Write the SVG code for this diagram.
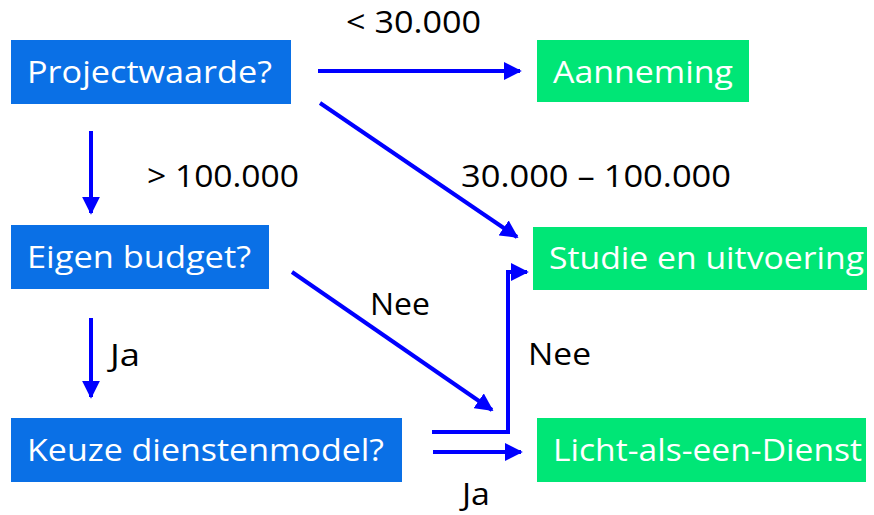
<svg xmlns="http://www.w3.org/2000/svg" width="874" height="515" viewBox="0 0 874 515">
<defs>
<style>
.q{fill:#0A70E6}
.a{fill:#00E676}
.t{font-family:"Open Sans","Liberation Sans",sans-serif;font-size:31px;fill:#fff}
.l{font-family:"Open Sans","Liberation Sans",sans-serif;font-size:31px;fill:#000}
.c{stroke:#0000FF;stroke-width:4;fill:none}
</style>
<marker id="ah" viewBox="0 0 10 10" refX="9" refY="5" markerWidth="4.5" markerHeight="4.5" markerUnits="strokeWidth" orient="auto">
<path d="M0,0 L10,5 L0,10 z" fill="#0000FF"/>
</marker>
</defs>
<rect width="874" height="515" fill="#fff"/>
<g id="projectwaarde"><rect class="q" x="11" y="40" width="280" height="64"/><text class="t" x="27" y="83" textLength="245" lengthAdjust="spacingAndGlyphs">Projectwaarde?</text></g>
<g id="aanneming"><rect class="a" x="537" y="40" width="212" height="62"/><text class="t" x="553" y="83" textLength="180" lengthAdjust="spacingAndGlyphs">Aanneming</text></g>
<g id="eigen"><rect class="q" x="11" y="225" width="258" height="64"/><text class="t" x="27" y="268" textLength="224" lengthAdjust="spacingAndGlyphs">Eigen budget?</text></g>
<g id="studie"><rect class="a" x="533" y="227" width="334" height="63"/><text class="t" x="549" y="269" textLength="315" lengthAdjust="spacingAndGlyphs">Studie en uitvoering</text></g>
<g id="keuze"><rect class="q" x="11" y="418" width="391" height="64"/><text class="t" x="27" y="461" textLength="357" lengthAdjust="spacingAndGlyphs">Keuze dienstenmodel?</text></g>
<g id="licht"><rect class="a" x="537" y="418" width="329" height="64"/><text class="t" x="553" y="461" textLength="309" lengthAdjust="spacingAndGlyphs">Licht-als-een-Dienst</text></g>
<g id="connectors">
<line class="c" x1="318" y1="71" x2="520" y2="71" marker-end="url(#ah)"/>
<line class="c" x1="320" y1="103" x2="517" y2="237" marker-end="url(#ah)"/>
<line class="c" x1="91" y1="131" x2="91" y2="213" marker-end="url(#ah)"/>
<line class="c" x1="292" y1="272" x2="492" y2="410" marker-end="url(#ah)"/>
<line class="c" x1="91" y1="318" x2="91" y2="397" marker-end="url(#ah)"/>
<polyline class="c" points="432,432 508,432 508,272 527,272" marker-end="url(#ah)"/>
<line class="c" x1="433" y1="452" x2="521" y2="452" marker-end="url(#ah)"/>
</g>
<g id="labels">
<text class="l" x="346" y="33" textLength="135" lengthAdjust="spacingAndGlyphs">&lt; 30.000</text>
<text class="l" x="147" y="187" textLength="152" lengthAdjust="spacingAndGlyphs">&gt; 100.000</text>
<text class="l" x="461" y="187" textLength="270" lengthAdjust="spacingAndGlyphs">30.000 – 100.000</text>
<text class="l" x="370" y="315" textLength="60" lengthAdjust="spacingAndGlyphs">Nee</text>
<text class="l" x="110" y="366" textLength="30" lengthAdjust="spacingAndGlyphs">Ja</text>
<text class="l" x="528" y="365" textLength="63" lengthAdjust="spacingAndGlyphs">Nee</text>
<text class="l" x="462" y="505" font-size="29" textLength="28" lengthAdjust="spacingAndGlyphs">Ja</text>
</g>
</svg>
